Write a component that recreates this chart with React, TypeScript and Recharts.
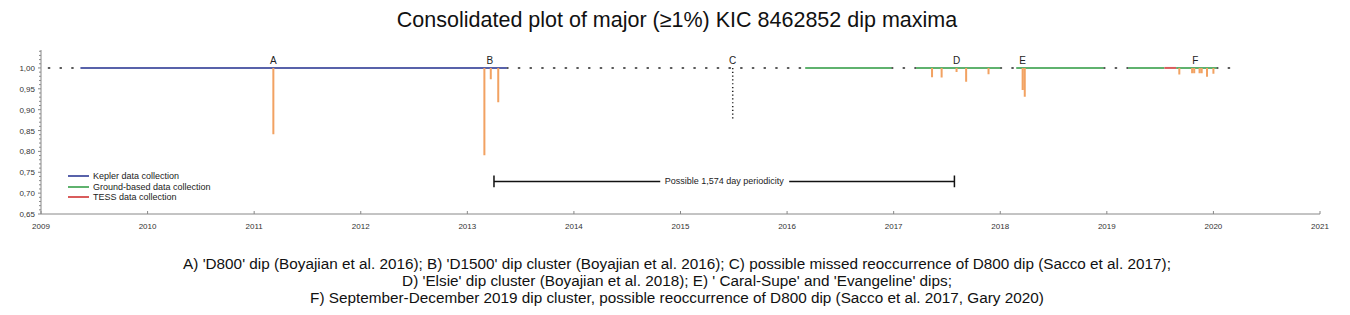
import { ComposedChart, Line, Scatter, XAxis, YAxis } from 'recharts'

// years on the x axis, flux on the y axis (1.00 = no dip)
const yearTicks = [2009, 2010, 2011, 2012, 2013, 2014, 2015, 2016, 2017, 2018, 2019, 2020, 2021]
const yMajorTicks = [0.65, 0.7, 0.75, 0.8, 0.85, 0.9, 0.95, 1.0]

// observing windows [start, end]
const keplerSpans = [[2009.37, 2013.37]]
const groundSpans = [[2016.17, 2016.98], [2017.21, 2018.0], [2018.15, 2018.97], [2019.2, 2019.54], [2019.65, 2020.03]]
const tessSpans = [[2019.54, 2019.65]]
// no-data gaps (dotted)
const gapSpans = [[2009.07, 2009.37], [2013.37, 2016.17], [2016.98, 2017.21], [2018.0, 2018.15], [2018.97, 2019.2], [2020.03, 2020.18]]

// dip maxima
const dipYears = [2011.18, 2013.16, 2013.22, 2013.29, 2017.36, 2017.45, 2017.59, 2017.68, 2017.89, 2018.21, 2018.23, 2019.68, 2019.8, 2019.82, 2019.87, 2019.89, 2019.94, 2020.0]
const dipMinima = [0.841, 0.791, 0.973, 0.918, 0.978, 0.977, 0.99, 0.967, 0.985, 0.947, 0.931, 0.984, 0.987, 0.987, 0.987, 0.987, 0.979, 0.986]

// missed reoccurrence C
const missedYear = 2015.49
const missedDepth = 0.873

// periodicity bar
const periodStart = 2013.25
const periodEnd = 2017.57
const periodLevel = 0.728
const periodGap = [2014.81, 2016.02]
const periodLabel = 'Possible 1,574 day periodicity'

const letterNames = ['A', 'B', 'C', 'D', 'E', 'F']
const letterYears = [2011.18, 2013.21, 2015.49, 2017.59, 2018.21, 2019.83]

const BLUE = '#5862aa'
const GREEN = '#5fb26e'
const RED = '#d95c5c'
const ORANGE = '#f2a262'
const FONT = 'Arial, "Liberation Sans", sans-serif'

const spansToData = (spans: number[][]) =>
  spans.flatMap(([s, e]) => [{ x: s, y: 1 }, { x: e, y: 1 }, { x: e, y: null }])

const keplerData = spansToData(keplerSpans)
const groundData = spansToData(groundSpans)
const tessData = spansToData(tessSpans)
const gapData = spansToData(gapSpans)
const dipData = dipYears.flatMap((x, i) => [{ x, y: 1 }, { x, y: dipMinima[i] }, { x, y: null }])
const missedData = [{ x: missedYear, y: 1 }, { x: missedYear, y: missedDepth }]
const periodData = [
  { x: periodStart, y: periodLevel }, { x: periodGap[0], y: periodLevel }, { x: periodGap[0], y: null },
  { x: periodGap[1], y: periodLevel }, { x: periodEnd, y: periodLevel }, { x: periodEnd, y: null },
  { x: periodStart, y: periodLevel + 0.014 }, { x: periodStart, y: periodLevel - 0.014 }, { x: periodStart, y: null },
  { x: periodEnd, y: periodLevel + 0.014 }, { x: periodEnd, y: periodLevel - 0.014 },
]
const letterData = letterNames.map((label, i) => ({ x: letterYears[i], y: 1, label }))
const periodTextData = [{ x: (periodStart + periodEnd) / 2, y: periodLevel, label: periodLabel }]

const legendItems = [
  { name: 'Kepler data collection', color: BLUE },
  { name: 'Ground-based data collection', color: GREEN },
  { name: 'TESS data collection', color: RED },
]

const yTicks: number[] = []
for (let i = 65; i <= 104; i++) yTicks.push(i / 100)

const YTick = ({ x, y, payload }: any) => {
  const v = payload.value
  const major = yMajorTicks.some(t => Math.abs(t - v) < 1e-6)
  return (
    <g>
      <line x1={x - (major ? 3 : 2)} x2={x} y1={y} y2={y} stroke="#888" />
      {major && (
        <text x={x - 6} y={y} dy={3} textAnchor="end" fontSize={8} fill="#333" fontFamily={FONT}>
          {v.toFixed(2).replace('.', ',')}
        </text>
      )}
    </g>
  )
}

const XTick = ({ x, y, payload }: any) => (
  <g>
    <line x1={x} x2={x} y1={y - 3} y2={y} stroke="#888" />
    <text x={x} y={y + 15} textAnchor="middle" fontSize={8} fill="#333" fontFamily={FONT}>
      {payload.value}
    </text>
  </g>
)

const LetterShape = ({ cx, cy, payload }: any) => (
  <text x={cx} y={cy - 4} textAnchor="middle" fontSize={10} fill="#222" fontFamily={FONT}>
    {payload.label}
  </text>
)

const PeriodText = ({ cx, cy, payload }: any) => (
  <text x={cx} y={cy} dy={3} textAnchor="middle" fontSize={9} fill="#222" fontFamily={FONT}>
    {payload.label}
  </text>
)

export default function App() {
  return (
    <div style={{ position: 'absolute', left: 0, top: 0, width: 1350, height: 315, background: '#fff', fontFamily: FONT }}>
      <div style={{ position: 'absolute', top: 8, left: 2, width: 1350, textAlign: 'center', fontSize: 21.5, color: '#111', lineHeight: '24px' }}>
        Consolidated plot of major (≥1%) KIC 8462852 dip maxima
      </div>
      <ComposedChart width={1350} height={315} margin={{ top: 50, right: 30, bottom: 81, left: 6 }}>
        <XAxis
          type="number"
          dataKey="x"
          domain={[2009, 2021]}
          ticks={yearTicks}
          tick={<XTick />}
          tickLine={false}
          tickSize={0}
          tickMargin={0}
          height={20}
          stroke="#888"
          allowDataOverflow
        />
        <YAxis
          type="number"
          dataKey="y"
          domain={[0.65, 1.043]}
          ticks={yTicks}
          tick={<YTick />}
          tickLine={false}
          tickSize={0}
          tickMargin={0}
          width={35}
          stroke="#888"
          interval={0}
          allowDataOverflow
        />
        <Line data={gapData} dataKey="y" stroke="#222" strokeWidth={1.6} strokeDasharray="1.2 10.5" strokeLinecap="round" dot={false} isAnimationActive={false} />
        <Line data={missedData} dataKey="y" stroke="#222" strokeWidth={1.5} strokeDasharray="1.2 2.6" dot={false} isAnimationActive={false} />
        <Line data={keplerData} dataKey="y" stroke={BLUE} strokeWidth={2} dot={false} isAnimationActive={false} />
        <Line data={groundData} dataKey="y" stroke={GREEN} strokeWidth={2} dot={false} isAnimationActive={false} />
        <Line data={tessData} dataKey="y" stroke={RED} strokeWidth={2} dot={false} isAnimationActive={false} />
        <Line data={dipData} dataKey="y" stroke={ORANGE} strokeWidth={2} dot={false} isAnimationActive={false} />
        <Line data={periodData} dataKey="y" stroke="#111" strokeWidth={1.5} dot={false} isAnimationActive={false} />
        <Scatter data={letterData} dataKey="y" shape={<LetterShape />} isAnimationActive={false} />
        <Scatter data={periodTextData} dataKey="y" shape={<PeriodText />} isAnimationActive={false} />
      </ComposedChart>
      <div style={{ position: 'absolute', left: 68, top: 171, fontSize: 9, color: '#222', lineHeight: '10.5px' }}>
        {legendItems.map(item => (
          <div key={item.name} style={{ display: 'flex', alignItems: 'center' }}>
            <div style={{ width: 21, height: 2, background: item.color, marginRight: 4 }} />
            <span>{item.name}</span>
          </div>
        ))}
      </div>
      <div style={{ position: 'absolute', top: 255, left: 2, width: 1350, textAlign: 'center', fontSize: 15.3, color: '#111', lineHeight: '17px' }}>
        <div>A) 'D800' dip (Boyajian et al. 2016); B) 'D1500' dip cluster (Boyajian et al. 2016); C) possible missed reoccurrence of D800 dip (Sacco et al. 2017);</div>
        <div>D) 'Elsie' dip cluster (Boyajian et al. 2018); E) ' Caral-Supe' and 'Evangeline' dips;</div>
        <div>F) September-December 2019 dip cluster, possible reoccurrence of D800 dip (Sacco et al. 2017, Gary 2020)</div>
      </div>
    </div>
  )
}
